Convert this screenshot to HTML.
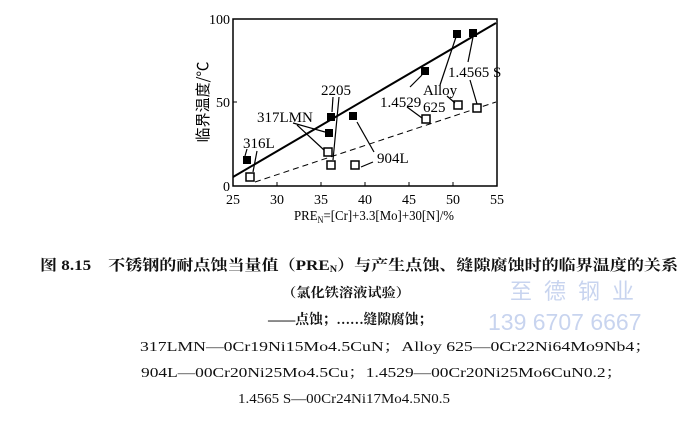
<!DOCTYPE html>
<html><head><meta charset="utf-8"><style>
body{margin:0;width:700px;height:423px;background:#fff;overflow:hidden}
svg{position:absolute;left:0;top:0}
</style></head><body>
<svg width="700" height="423" xmlns="http://www.w3.org/2000/svg" font-family="Liberation Serif, Noto Serif CJK SC, serif">
<rect x="233" y="19" width="264" height="167" fill="none" stroke="#000" stroke-width="1.5"/>
<g stroke="#000" stroke-width="1">
<line x1="277" y1="186" x2="277" y2="182"/><line x1="321" y1="186" x2="321" y2="182"/><line x1="365" y1="186" x2="365" y2="182"/><line x1="409" y1="186" x2="409" y2="182"/><line x1="453" y1="186" x2="453" y2="182"/>
<line x1="233" y1="102" x2="237" y2="102"/>
</g>
<g font-size="14" text-anchor="middle" fill="#000">
<text x="233" y="204">25</text><text x="277" y="204">30</text><text x="321" y="204">35</text><text x="365" y="204">40</text><text x="409" y="204">45</text><text x="453" y="204">50</text><text x="497" y="204">55</text>
</g>
<g font-size="14" text-anchor="end"><text x="230" y="24">100</text><text x="230" y="107">50</text><text x="230" y="191">0</text></g>
<text x="294" y="220" font-size="14" textLength="160" lengthAdjust="spacingAndGlyphs">PRE<tspan font-size="9" dy="3">N</tspan><tspan dy="-3">=[Cr]+3.3[Mo]+30[N]/%</tspan></text>
<text transform="translate(208,102) rotate(-90)" font-size="15" text-anchor="middle" font-family="Noto Sans CJK SC, sans-serif">临界温度/℃</text>
<line x1="233" y1="177" x2="496" y2="23" stroke="#000" stroke-width="2"/>
<line x1="255" y1="182" x2="496" y2="102" stroke="#000" stroke-width="1" stroke-dasharray="6,4"/>
<g fill="#000">
<rect x="243" y="156" width="8" height="8"/><rect x="327" y="113" width="8" height="8"/><rect x="325" y="129" width="8" height="8"/><rect x="349" y="112" width="8" height="8"/><rect x="421" y="67" width="8" height="8"/><rect x="453" y="30" width="8" height="8"/><rect x="469" y="29" width="8" height="8"/>
</g>
<g fill="#fff" stroke="#000" stroke-width="1.5">
<rect x="246" y="173" width="8" height="8"/><rect x="324" y="148" width="8" height="8"/><rect x="327" y="161" width="8" height="8"/><rect x="351" y="161" width="8" height="8"/><rect x="422" y="115" width="8" height="8"/><rect x="454" y="101" width="8" height="8"/><rect x="473" y="104" width="8" height="8"/>
</g>
<g stroke="#000" stroke-width="1.2">
<line x1="247" y1="149" x2="245" y2="156"/><line x1="257" y1="151" x2="253" y2="172"/>
<line x1="333" y1="97" x2="332" y2="112"/><line x1="339" y1="97" x2="333" y2="160"/>
<line x1="293" y1="123" x2="325" y2="132"/><line x1="297" y1="125" x2="324" y2="150"/>
<line x1="357" y1="122" x2="374" y2="152"/><line x1="373" y1="162" x2="361" y2="167"/>
<line x1="410" y1="87" x2="422" y2="75"/><line x1="407" y1="107" x2="422" y2="118"/>
<line x1="440" y1="85" x2="456" y2="37"/><line x1="447" y1="96" x2="455" y2="103"/>
<line x1="468" y1="62" x2="473" y2="37"/><line x1="470" y1="80" x2="477" y2="104"/>
</g>
<g font-size="15">
<text x="243" y="148">316L</text><text x="321" y="95">2205</text><text x="257" y="122">317LMN</text><text x="377" y="163">904L</text><text x="380" y="107">1.4529</text><text x="423" y="95">Alloy</text><text x="423" y="112">625</text><text x="448" y="77">1.4565 S</text>
</g>
<g font-family="Noto Sans CJK SC, sans-serif" fill="#c8d4ef" font-size="22">
<text x="510" y="299" letter-spacing="12">至德钢业</text>
<text x="488" y="330" font-family="Liberation Sans, sans-serif" font-size="23">139 6707 6667</text>
</g>
<g font-family="Liberation Serif, Noto Serif CJK SC, serif" fill="#111" lengthAdjust="spacingAndGlyphs">
<text x="40" y="270" font-size="15" font-weight="bold" textLength="638" lengthAdjust="spacingAndGlyphs">图 8.15　不锈钢的耐点蚀当量值（PRE<tspan font-size="9" dy="2">N</tspan><tspan dy="-2">）与产生点蚀、缝隙腐蚀时的临界温度的关系</tspan></text>
<text x="282" y="297" font-size="13" font-weight="bold" textLength="128" lengthAdjust="spacingAndGlyphs">（氯化铁溶液试验）</text>
<text x="268" y="324" font-size="14" font-weight="bold" textLength="164" lengthAdjust="spacingAndGlyphs">——点蚀；……缝隙腐蚀；</text>
<text x="140" y="351" font-size="14" textLength="512" lengthAdjust="spacingAndGlyphs">317LMN—0Cr19Ni15Mo4.5CuN；Alloy 625—0Cr22Ni64Mo9Nb4；</text>
<text x="141" y="377" font-size="14" textLength="482" lengthAdjust="spacingAndGlyphs">904L—00Cr20Ni25Mo4.5Cu；1.4529—00Cr20Ni25Mo6CuN0.2；</text>
<text x="238" y="403" font-size="14" textLength="212" lengthAdjust="spacingAndGlyphs">1.4565 S—00Cr24Ni17Mo4.5N0.5</text>
</g>
</svg>
</body></html>
